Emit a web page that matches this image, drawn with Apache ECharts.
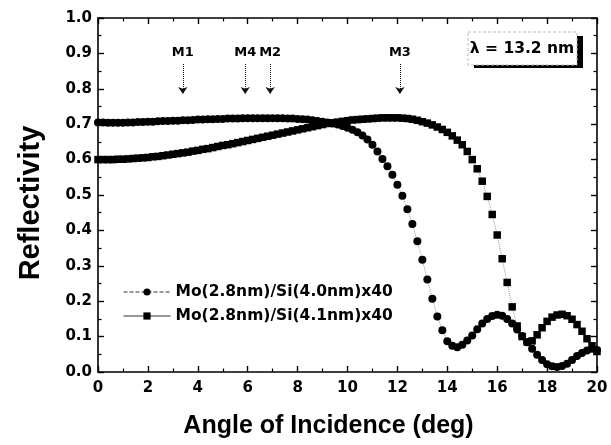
<!DOCTYPE html>
<html><head><meta charset="utf-8">
<script src="https://cdn.jsdelivr.net/npm/echarts@6/dist/echarts.min.js"></script>
<style>html,body{margin:0;padding:0;background:#fff}#c{width:611px;height:445px}</style>
</head><body><div id="c"></div>
<script>
const angles = [0,0.2,0.4,0.6,0.8,1,1.2,1.4,1.6,1.8,2,2.2,2.4,2.6,2.8,3,3.2,3.4,3.6,3.8,4,4.2,4.4,4.6,4.8,5,5.2,5.4,5.6,5.8,6,6.2,6.4,6.6,6.8,7,7.2,7.4,7.6,7.8,8,8.2,8.4,8.6,8.8,9,9.2,9.4,9.6,9.8,10,10.2,10.4,10.6,10.8,11,11.2,11.4,11.6,11.8,12,12.2,12.4,12.6,12.8,13,13.2,13.4,13.6,13.8,14,14.2,14.4,14.6,14.8,15,15.2,15.4,15.6,15.8,16,16.2,16.4,16.6,16.8,17,17.2,17.4,17.6,17.8,18,18.2,18.4,18.6,18.8,19,19.2,19.4,19.6,19.8,20];
const reflSi40 = [0.705,0.705,0.704,0.704,0.704,0.704,0.705,0.705,0.706,0.706,0.707,0.707,0.708,0.709,0.709,0.710,0.710,0.711,0.711,0.712,0.713,0.713,0.714,0.714,0.715,0.715,0.716,0.716,0.716,0.717,0.717,0.717,0.717,0.717,0.717,0.717,0.717,0.717,0.716,0.716,0.715,0.714,0.713,0.711,0.709,0.707,0.705,0.702,0.699,0.695,0.690,0.684,0.677,0.668,0.657,0.642,0.623,0.602,0.581,0.557,0.529,0.498,0.460,0.418,0.369,0.317,0.261,0.207,0.157,0.118,0.087,0.074,0.070,0.077,0.089,0.103,0.121,0.137,0.150,0.158,0.162,0.159,0.150,0.137,0.120,0.102,0.084,0.066,0.049,0.034,0.022,0.016,0.014,0.017,0.023,0.034,0.045,0.054,0.061,0.066,0.062];
const reflSi41 = [0.600,0.600,0.600,0.600,0.601,0.601,0.602,0.603,0.604,0.605,0.606,0.608,0.609,0.611,0.613,0.615,0.617,0.619,0.621,0.624,0.626,0.629,0.631,0.634,0.637,0.640,0.642,0.645,0.648,0.651,0.654,0.657,0.660,0.663,0.666,0.669,0.672,0.675,0.678,0.681,0.684,0.687,0.690,0.693,0.696,0.699,0.702,0.704,0.706,0.708,0.710,0.712,0.713,0.714,0.715,0.716,0.717,0.718,0.718,0.718,0.718,0.717,0.716,0.714,0.711,0.707,0.703,0.698,0.692,0.685,0.677,0.667,0.655,0.642,0.623,0.600,0.574,0.539,0.496,0.445,0.387,0.320,0.253,0.184,0.130,0.100,0.085,0.088,0.105,0.125,0.143,0.155,0.161,0.163,0.159,0.149,0.134,0.115,0.094,0.074,0.058];
const seriesNames = ['Mo(2.8nm)/Si(4.0nm)x40', 'Mo(2.8nm)/Si(4.1nm)x40'];
const xRange = [0, 20, 2];
const yRange = [0, 1, 0.1];
const mirrorNames = ['M1', 'M4', 'M2', 'M3'];
const mirrorAngles = [3.4, 5.9, 6.9, 12.1];
const arrowFromTo = [0.87, 0.785];
const wavelengthLabel = 'λ = 13.2 nm';
const xTitle = 'Angle of Incidence (deg)';
const yTitle = 'Reflectivity';

const TF = 'DejaVu Sans';
const HF = 'Liberation Sans, Arial';

function axisCommon(showLabel) {
  return {
    axisLine: { show: true, onZero: false, lineStyle: { color: '#000', width: 1.6 } },
    axisTick: { show: true, inside: true, length: 6, lineStyle: { color: '#000', width: 1.4 } },
    minorTick: { show: true, splitNumber: 2, length: 3.5, lineStyle: { color: '#000', width: 1.2 } },
    splitLine: { show: false },
    minorSplitLine: { show: false },
    axisLabel: { show: showLabel, fontFamily: TF, fontWeight: 'bold', fontSize: 15, color: '#000' }
  };
}

const chart = echarts.init(document.getElementById('c'), null, { renderer: 'canvas' });
const xMain = Object.assign(axisCommon(true), {
  type: 'value', position: 'bottom', min: xRange[0], max: xRange[1], interval: xRange[2],
  name: xTitle, nameLocation: 'middle', nameGap: 42,
  nameTextStyle: { fontFamily: HF, fontWeight: 'bold', fontSize: 25, color: '#000', padding: [0, 38, 0, 0] }
});
xMain.axisLabel.margin = 9;
const xTop = Object.assign(axisCommon(false), {
  type: 'value', position: 'top', min: xRange[0], max: xRange[1], interval: xRange[2]
});
const yMain = Object.assign(axisCommon(true), {
  type: 'value', position: 'left', min: yRange[0], max: yRange[1], interval: yRange[2],
  name: yTitle, nameLocation: 'middle', nameGap: 53, nameRotate: 90,
  nameTextStyle: { fontFamily: HF, fontWeight: 'bold', fontSize: 29, color: '#000', padding: [0, 16, 0, 0] }
});
yMain.axisLabel.formatter = v => v.toFixed(1);
yMain.axisLabel.margin = 6;
const yRight = Object.assign(axisCommon(false), {
  type: 'value', position: 'right', min: yRange[0], max: yRange[1], interval: yRange[2]
});

const option = {
  animation: false,
  backgroundColor: '#fff',
  grid: { left: 98, right: 14, top: 18, bottom: 73, containLabel: false },
  xAxis: [xMain, xTop],
  yAxis: [yMain, yRight],
  legend: {
    orient: 'vertical', left: 123, top: 283, padding: 0,
    itemWidth: 47, itemHeight: 9, itemGap: 6,
    textStyle: { fontFamily: TF, fontWeight: 'bold', fontSize: 15.5, color: '#000', lineHeight: 18 },
    data: [
      { name: seriesNames[0], lineStyle: { color: '#333', width: 1, type: 'dashed' } },
      { name: seriesNames[1], lineStyle: { color: '#333', width: 1, type: 'solid' } }
    ]
  },
  series: [
    {
      name: seriesNames[0], type: 'line', xAxisIndex: 0, yAxisIndex: 0,
      data: angles.map((a, i) => [a, reflSi40[i]]),
      symbol: 'circle', symbolSize: 8, showAllSymbol: true,
      itemStyle: { color: '#000' },
      lineStyle: { color: '#999', width: 1, type: 'dotted' },
      markLine: {
        silent: true, animation: false,
        symbol: ['none', 'arrow'], symbolSize: 7,
        lineStyle: { color: '#111', width: 1, type: 'dotted' },
        label: { show: true, position: 'start', formatter: '{b}', distance: 5,
          fontFamily: TF, fontWeight: 'bold', fontSize: 13, color: '#000' },
        data: mirrorAngles.map((a, i) => [
          { name: mirrorNames[i], coord: [a, arrowFromTo[0]] },
          { coord: [a, arrowFromTo[1]] }
        ])
      }
    },
    {
      name: seriesNames[1], type: 'line', xAxisIndex: 0, yAxisIndex: 0,
      data: angles.map((a, i) => [a, reflSi41[i]]),
      symbol: 'rect', symbolSize: 7.5, showAllSymbol: true,
      itemStyle: { color: '#000' },
      lineStyle: { color: '#999', width: 1, type: 'dotted' }
    }
  ],
  graphic: [
    { type: 'rect', shape: { x: 474, y: 36, width: 109, height: 32 }, style: { fill: '#000' }, z: 100 },
    { type: 'rect', shape: { x: 468, y: 32, width: 109, height: 33 }, style: { fill: '#fff', stroke: '#bbb', lineWidth: 1, lineDash: [3, 2] }, z: 101 },
    { type: 'text', x: 522, y: 49, style: { text: wavelengthLabel, align: 'center', verticalAlign: 'middle',
      font: 'bold 15.5px "DejaVu Sans"', fill: '#000' }, z: 102 }
  ]
};
chart.setOption(option);
</script>
</body></html>
